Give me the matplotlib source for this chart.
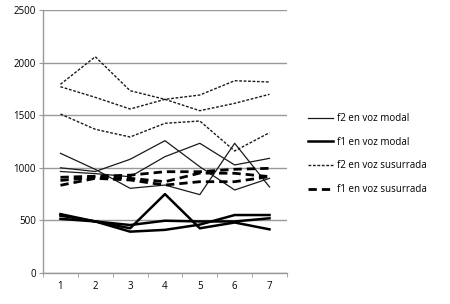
import matplotlib
matplotlib.use('Agg')
import matplotlib.pyplot as plt

x = [1, 2, 3, 4, 5, 6, 7]

# f2 en voz modal (thin solid)
f2_modal = [
    [1138, 985, 805, 836, 745, 1233, 818],
    [1000, 965, 1081, 1258, 1010, 789, 900],
    [965, 945, 915, 1106, 1233, 1027, 1090],
]
# f1 en voz modal (thick solid)
f1_modal = [
    [545, 490, 425, 750, 425, 480, 415],
    [560, 490, 393, 410, 460, 551, 551],
    [515, 490, 456, 497, 490, 490, 520],
]
# f2 en voz susurrada (dotted)
f2_susurrada = [
    [1794, 2056, 1733, 1651, 1543, 1613, 1699],
    [1771, 1670, 1559, 1651, 1692, 1828, 1816],
    [1511, 1366, 1293, 1423, 1445, 1160, 1334],
]
# f1 en voz susurrada (thick dashed)
f1_susurrada = [
    [910, 920, 930, 963, 963, 986, 995],
    [880, 910, 900, 868, 950, 948, 916],
    [834, 900, 884, 836, 868, 868, 916],
]

labels = ['f2 en voz modal', 'f1 en voz modal', 'f2 en voz susurrada', 'f1 en voz susurrada']
yticks = [0, 500, 1000, 1500, 2000, 2500]

plt.rcParams['font.family'] = ['Open Sans', 'DejaVu Sans']

fig = plt.figure(figsize=(4.5, 3.04), dpi=100)
ax = fig.add_axes([0.0956, 0.102, 0.542, 0.865])

col = '#1a1a1a'
for i, s in enumerate(f2_modal):
    ax.plot(x, s, '-', color=col, lw=0.9, label=labels[0] if i == 0 else None)
for i, s in enumerate(f1_modal):
    ax.plot(x, s, '-', color='black', lw=1.8, label=labels[1] if i == 0 else None)
for i, s in enumerate(f2_susurrada):
    ax.plot(x, s, color=col, lw=1.0, dashes=(2, 1.2), label=labels[2] if i == 0 else None)
for i, s in enumerate(f1_susurrada):
    ax.plot(x, s, color='black', lw=2.0, dashes=(3, 1.8), label=labels[3] if i == 0 else None)

ax.set_xlim(0.5, 7.5)
ax.set_ylim(0, 2500)
ax.set_yticks(yticks)
ax.set_xticks(x)
ax.set_xticks([v + 0.5 for v in range(8)], minor=True)
ax.tick_params(axis='x', which='major', length=0, labelsize=7, pad=6)
ax.tick_params(axis='x', which='minor', length=3, color='#999999')
ax.tick_params(axis='y', length=3, color='#999999', labelsize=7, pad=2)
ax.yaxis.grid(True, color='#999999', lw=1)
ax.set_axisbelow(True)
for side in ['top', 'right']:
    ax.spines[side].set_visible(False)
for side in ['left', 'bottom']:
    ax.spines[side].set_color('#999999')
    ax.spines[side].set_linewidth(1)

fig.legend(loc='upper left', bbox_to_anchor=(0.664, 0.657), frameon=False,
           fontsize=7, handlelength=2.6, handletextpad=0.4, labelspacing=1.3)

fig.savefig('out.png', dpi=100)
